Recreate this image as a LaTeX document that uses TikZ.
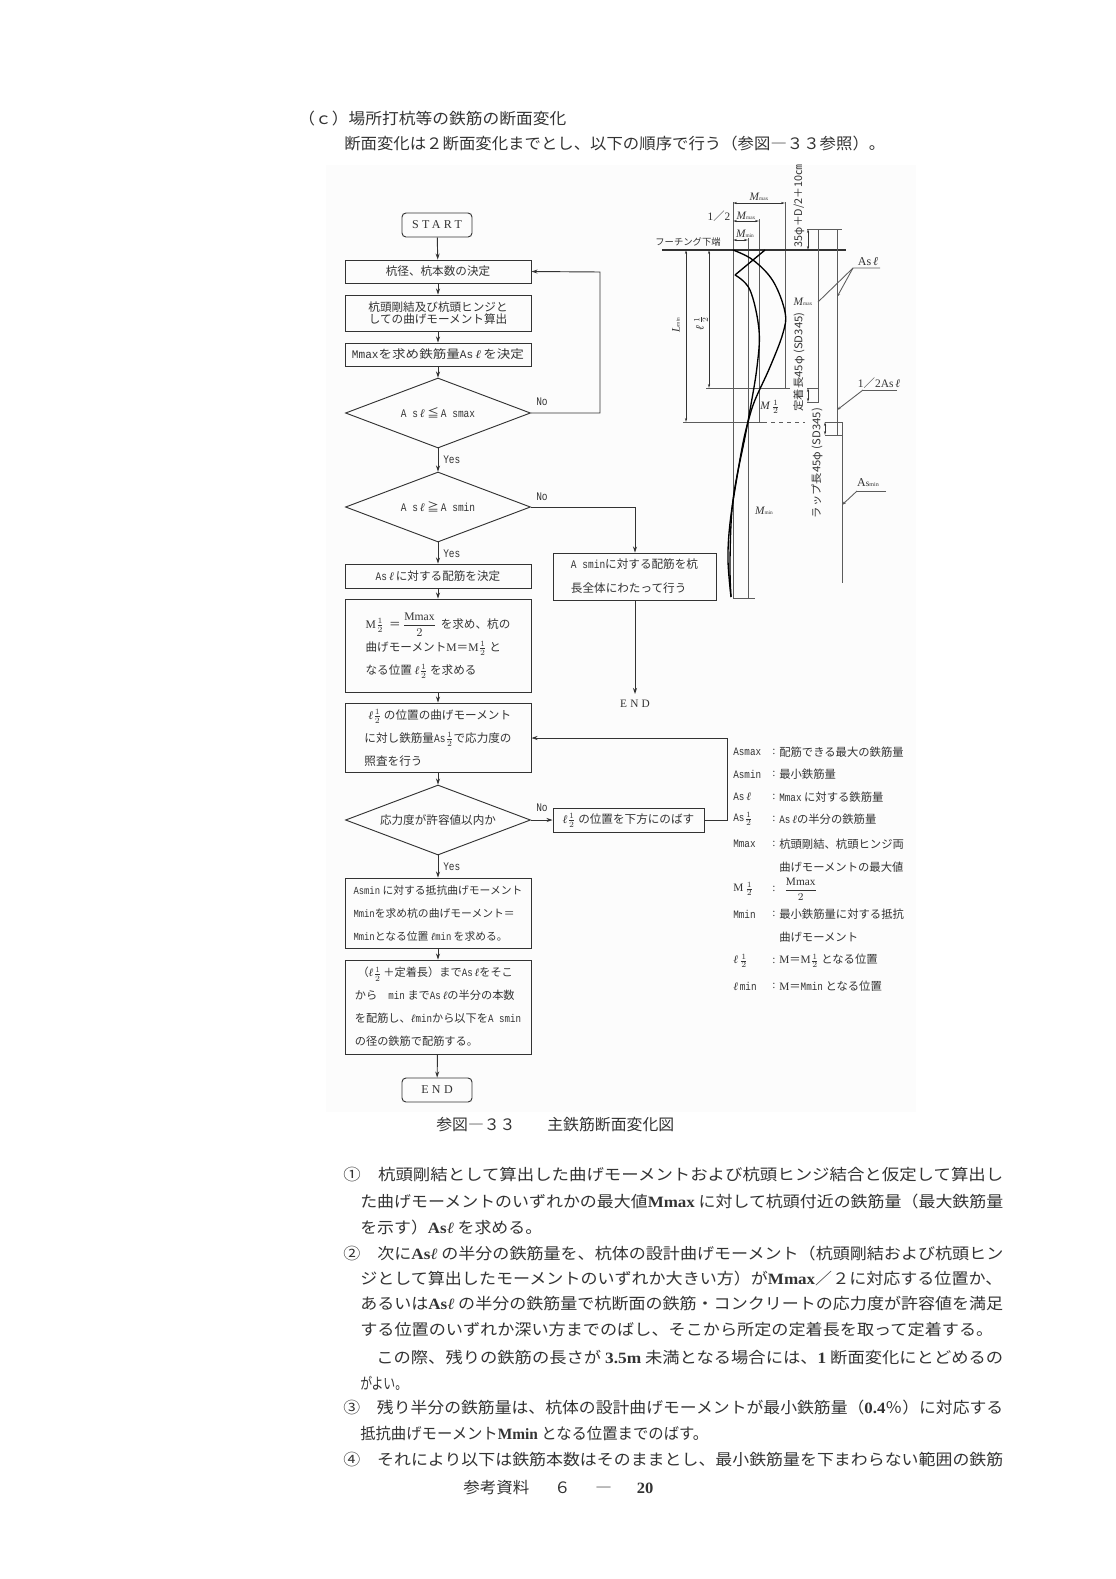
\documentclass[tikz,border=0pt]{standalone}
\usepackage{fontspec}
\usepackage{graphicx}
\usetikzlibrary{arrows.meta,shapes.geometric}
\setmainfont{Noto Sans CJK JP}
\newfontfamily\monof[FakeStretch=0.82]{Liberation Mono}
\newfontfamily\serf{Liberation Serif}
\newfontfamily\spacedf[LetterSpace=28]{Liberation Serif}
\newcommand\ma[1]{{\monof #1}}
\newcommand\se[1]{{\serf #1}}
\newcommand\bo[1]{{\serf\bfseries #1}}
\newcommand\el{{\serf\itshape ℓ}}
\newcommand\hf{$\frac{1}{2}$}
\newcommand\wsl{{\rmfamily ／}}
\newdimen\pxu \pxu=0.75pt
\definecolor{ink}{gray}{0.2}
\definecolor{scanbg}{gray}{0.99}
\newcounter{tn}
\newcommand\putlab[4][]{\stepcounter{tn}\node[lbl,#1] (t\arabic{tn}) at (#2,#3) {#4};}
\newcommand\bodyln[4]{\putlab[font=\fontsize{11.8}{14}\selectfont]{#1}{#2}{\resizebox{#3\pxu}{\height}{#4}}}
\newcommand\legend[3]{\putlab[font=\fontsize{8.5}{10}\selectfont]{733}{#1}{\ma{#2}}\putlab[font=\serf\fontsize{8.5}{10}\selectfont]{772}{#1}{:}\putlab[font=\fontsize{8.5}{10}\selectfont]{779}{#1}{#3}}
\tikzset{
  lbl/.style={anchor=west,inner sep=0pt,text=ink},
  fbox/.style={draw=ink,line width=0.7pt,rectangle,inner sep=0pt,text=ink,font=\fontsize{8.7}{17.25}\selectfont},
  tightbox/.style={fbox,font=\fontsize{8.7}{9.4}\selectfont,align=center},
  leftbox/.style={fbox,align=left},
  term/.style={fbox,rounded corners=3pt,minimum width=70\pxu,minimum height=24\pxu,font=\spacedf\fontsize{9}{11}\selectfont},
  dec/.style={draw=ink,line width=0.7pt,diamond,aspect=2.64,inner sep=0pt,minimum width=185\pxu,minimum height=70\pxu,text=ink,font=\fontsize{8.7}{10}\selectfont},
  arr/.style={draw=ink,line width=0.7pt,-{Stealth[length=4.5pt,width=3pt]}},
  rebar/.style={draw=ink!80,line width=0.65pt},
  thick curve/.style={draw=black,line width=1pt},
  dim/.style={draw=ink,line width=0.5pt,{Stealth[length=3pt,width=1.6pt]}-{Stealth[length=3pt,width=1.6pt]}},
  fl/.style={font=\monof\fontsize{8.7}{10}\selectfont},
  dl/.style={font=\serf\fontsize{8.5}{10}\selectfont},
  ds/.style={font=\fontsize{8}{10}\selectfont},
}
\begin{document}
\begin{tikzpicture}[x=0.75pt,y=-0.75pt]
\useasboundingbox (0,0) rectangle (1116,1579);
\fill[white] (0,0) rectangle (1116,1579);
\fill[scanbg] (326,165) rectangle (916,1112);

% headings
\bodyln{298}{119}{268}{（ｃ）場所打杭等の鉄筋の断面変化}
\bodyln{344}{144}{541}{断面変化は２断面変化までとし、以下の順序で行う（参図―３３参照）。}

% flowchart
\node[term] (start) at (437,225) {START};
\node[fbox,minimum width=186\pxu,minimum height=23\pxu] (b1) at (438,271.5) {杭径、杭本数の決定};
\node[tightbox,minimum width=186\pxu,minimum height=36\pxu] (b2) at (438,313) {杭頭剛結及び杭頭ヒンジと\\しての曲げモーメント算出};
\node[fbox,minimum width=186\pxu,minimum height=23\pxu] (b3) at (438,354.5) {\resizebox{172\pxu}{\height}{\ma{Mmax}を求め鉄筋量\ma{As}\,\el\,を決定}};
\node[dec] (d1) at (438,413) {\ma{A s}\,\el\ ≦\,\ma{A smax}};
\node[dec] (d2) at (438,507) {\ma{A s}\,\el\ ≧\,\ma{A smin}};
\node[fbox,minimum width=186\pxu,minimum height=24\pxu] (b4) at (438,576) {\ma{As}\,\el\,に対する配筋を決定};
\node[leftbox,minimum width=186\pxu,minimum height=93\pxu] (b5) at (438,645.5) {\se{M}\hf\ \ ＝\,$\displaystyle\frac{\mbox{\se{Mmax}}}{2}$\, を求め、杭の\\曲げモーメント\se{M}＝\se{M}\hf\ と\\なる位置 \el\hf\ を求める};
\node[leftbox,minimum width=186\pxu,minimum height=69\pxu] (b6) at (438,737.5) {\hspace{3pt}\el\hf\ の位置の曲げモーメント\\に対し鉄筋量\ma{As}\hf で応力度の\\照査を行う};
\node[dec] (d3) at (438,820) {応力度が許容値以内か};
\node[leftbox,minimum width=186\pxu,minimum height=70\pxu,font=\fontsize{8.1}{17.25}\selectfont] (b7) at (438,913) {\ma{Asmin} に対する抵抗曲げモーメント\\\ma{Mmin}を求め杭の曲げモーメント＝\\\ma{Mmin}となる位置 \el\ma{min} を求める。};
\node[leftbox,minimum width=186\pxu,minimum height=94\pxu,font=\fontsize{8.4}{17.25}\selectfont] (b8) at (438,1007) {\hspace{2pt}（\el\hf\,＋定着長）まで\ma{As}\,\el をそこ\\から\quad\ma{min} まで\ma{As}\,\el の半分の本数\\を配筋し、\el\ma{min}から以下を\ma{A smin}\\の径の鉄筋で配筋する。};
\node[term] (end1) at (437,1090) {END};
\node[leftbox,minimum width=163\pxu,minimum height=47\pxu,font=\fontsize{8.7}{18}\selectfont] (ba) at (634.5,576.5) {\ma{A smin}に対する配筋を杭\\長全体にわたって行う};
\node[fbox,minimum width=151\pxu,minimum height=24\pxu] (bl) at (628.5,820) {\el\hf\ の位置を下方にのばす};
\node[inner sep=0pt,text=ink,font=\spacedf\fontsize{8.5}{10}\selectfont] (end2) at (635,704) {END};

\coordinate (fb1) at (600,272);
\coordinate (ret) at (727,738);
\coordinate (dn1) at (635,507);
\coordinate (endtip) at (635,694);

\draw[arr] (start) -- (b1);
\draw[arr] (b1) -- (b2);
\draw[arr] (b2) -- (b3);
\draw[arr] (b3) -- (d1);
\draw[arr] (d1) -- (d2);
\draw[arr] (d2) -- (b4);
\draw[arr] (b4) -- (b5);
\draw[arr] (b5) -- (b6);
\draw[arr] (b6) -- (d3);
\draw[arr] (d3) -- (b7);
\draw[arr] (b7) -- (b8);
\draw[arr] (b8) -- (end1);
\draw[arr] (d1.east) -| (fb1) -- (b1.east);
\draw[arr] (d2.east) -- (dn1) -- (ba.north -| dn1);
\draw[arr] (ba.south -| endtip) -- (endtip);
\draw[arr] (d3.east) -- (bl.west);
\draw[arr] (bl.east) -| (ret) -- (b6.east |- ret);

\putlab[fl]{536}{402}{No}
\putlab[fl]{536}{497}{No}
\putlab[fl]{536}{808}{No}
\putlab[fl]{443}{460}{Yes}
\putlab[fl]{443}{554}{Yes}
\putlab[fl]{443}{867}{Yes}

% section diagram: pile lines
\draw[rebar] (733,202) -- (733,598) -- (755,598);
\draw[rebar] (785,202) -- (785,388);
\draw[rebar] (759,219) -- (759,422);
\draw[rebar] (748,238) -- (748,598);
\draw[line width=0.9pt,draw=ink] (662,250) -- (846,250);
\draw[rebar] (706,388) -- (790,388);
\draw[rebar] (683,422) -- (763,422);
\draw[rebar,dashed] (763,422) -- (805,422);
\draw[rebar] (807,229) -- (842,229);
\draw[rebar] (818,229) -- (818,402) -- (807,402);
\draw[rebar] (807,388) -- (818,388);
\draw[rebar] (837,229) -- (837,435);
\draw[rebar] (825,422) -- (842,422) -- (842,583);
\draw[rebar] (825,435) -- (842,435);

\draw[dim] (733,203) -- (785,203);
\draw[dim] (733,221) -- (759,221);
\draw[dim] (733,240) -- (748,240);
\draw[dim] (808,229) -- (808,250);
\draw[dim] (686,250) -- (686,422);
\draw[dim] (709,250) -- (709,388);
\draw[dim] (808,388) -- (808,402);
\draw[dim] (825,422) -- (825,435);

% moment curves
\draw[thick curve] plot[smooth,tension=0.6] coordinates {(733,250) (753,260) (773,281) (785,312) (783,333) (770,367) (755,400) (748,422) (743,443) (737,477) (730,523) (728,560) (731,597)};
\draw[thick curve] (765,250) -- (735,275) plot[smooth,tension=0.6] coordinates {(735,275) (750,290) (759,330) (757,367) (750,410) (745,437) (733,500) (730,560) (731,597)};

% leaders
\coordinate (asl) at (853,268);
\coordinate (hasl) at (863,390);
\coordinate (asm) at (857,491);
\draw[rebar] (880,268) -- (asl) -- (818,302);
\draw[rebar,-{Stealth[length=3pt,width=2pt]}] (asl) -- (837,297);
\draw[rebar] (897,390) -- (hasl);
\draw[rebar,-{Stealth[length=3pt,width=2pt]}] (hasl) -- (837,410);
\draw[rebar] (886,491) -- (asm);
\draw[rebar,-{Stealth[length=3pt,width=2pt]}] (asm) -- (842,505);

% section diagram labels
\newcommand\Mm[1]{\serf\itshape M{\fontsize{4}{5}\selectfont\upshape #1}}
\node[dl,inner sep=0pt,text=ink] (l1) at (759,197) {\Mm{max}};
\node[dl,inner sep=0pt,text=ink] (l2) at (719,216) {1\wsl 2};
\node[dl,inner sep=0pt,text=ink] (l3) at (746,216) {\Mm{max}};
\node[dl,inner sep=0pt,text=ink] (l4) at (745,234) {\Mm{min}};
\node[inner sep=0pt,text=ink,font=\fontsize{7}{9}\selectfont] (l5) at (688,242) {フーチング下端};
\node[dl,inner sep=0pt,text=ink,rotate=90] (l6) at (676,325) {{\itshape L}{\fontsize{4}{5}\selectfont min}};
\node[dl,inner sep=0pt,text=ink,rotate=90] (l7) at (701,323) {\el\,\hf};
\node[dl,inner sep=0pt,text=ink] (l8) at (803,302) {\Mm{max}};
\node[dl,inner sep=0pt,text=ink] (l9) at (770,407) {{\itshape M}\,\hf};
\node[ds,inner sep=0pt,text=ink,rotate=90] (l10) at (799,206) {\resizebox{82\pxu}{\height}{35φ＋D/2＋10㎝}};
\node[ds,inner sep=0pt,text=ink,rotate=90] (l11) at (799,362) {\resizebox{99\pxu}{\height}{定着長45φ\ (SD345)}};
\node[ds,inner sep=0pt,text=ink,rotate=90] (l12) at (817,463) {\resizebox{110\pxu}{\height}{ラップ長45φ\ (SD345)}};
\node[inner sep=0pt,text=ink,font=\serf\fontsize{9}{11}\selectfont] (l13) at (868,262) {As\,\el};
\node[inner sep=0pt,text=ink,font=\serf\fontsize{8.6}{11}\selectfont] (l14) at (879,383) {1\wsl 2As\,\el};
\node[inner sep=0pt,text=ink,font=\serf\fontsize{9}{11}\selectfont] (l15) at (868,483) {A{\fontsize{7}{8}\selectfont s}{\fontsize{4.5}{5}\selectfont min}};
\node[dl,inner sep=0pt,text=ink] (l16) at (764,511) {\Mm{min}};

% legend
\legend{752}{Asmax}{配筋できる最大の鉄筋量}
\legend{774}{Asmin}{最小鉄筋量}
\legend{797}{As\,\el}{\ma{Mmax} に対する鉄筋量}
\legend{819}{As\hf}{\ma{As}\,\el の半分の鉄筋量}
\legend{844}{Mmax}{杭頭剛結、杭頭ヒンジ両}
\putlab[font=\fontsize{8.5}{10}\selectfont]{779}{867}{曲げモーメントの最大値}
\legend{889}{\se{M}\,\hf}{\ \ $\displaystyle\frac{\mbox{\se{Mmax}}}{2}$}
\legend{914}{Mmin}{最小鉄筋量に対する抵抗}
\putlab[font=\fontsize{8.5}{10}\selectfont]{779}{937}{曲げモーメント}
\legend{961}{\el\,\hf}{\se{M}＝\se{M}\hf\ となる位置}
\legend{986}{\el\,min}{\se{M}＝\ma{Mmin} となる位置}

% caption
\bodyln{436}{1125}{238}{参図―３３\quad\quad 主鉄筋断面変化図}

% body text
\bodyln{343}{1175}{660}{①\hspace{1em}杭頭剛結として算出した曲げモーメントおよび杭頭ヒンジ結合と仮定して算出し}
\bodyln{360}{1202}{643}{た曲げモーメントのいずれかの最大値\bo{Mmax} に対して杭頭付近の鉄筋量（最大鉄筋量}
\bodyln{360}{1228}{182}{を示す）\bo{As}\el\ を求める。}
\bodyln{343}{1254}{660}{②\hspace{1em}次に\bo{As}\el\ の半分の鉄筋量を、杭体の設計曲げモーメント（杭頭剛結および杭頭ヒン}
\bodyln{360}{1279}{642}{ジとして算出したモーメントのいずれか大きい方）が\bo{Mmax}／２に対応する位置か、}
\bodyln{360}{1304}{643}{あるいは\bo{As}\el\ の半分の鉄筋量で杭断面の鉄筋・コンクリートの応力度が許容値を満足}
\bodyln{360}{1330}{633}{する位置のいずれか深い方までのばし、そこから所定の定着長を取って定着する。}
\bodyln{376}{1357}{627}{この際、残りの鉄筋の長さが \bo{3.5m} 未満となる場合には、\bo{1} 断面変化にとどめるの}
\bodyln{360}{1383}{47}{がよい。}
\bodyln{343}{1408}{660}{③\hspace{1em}残り半分の鉄筋量は、杭体の設計曲げモーメントが最小鉄筋量（\bo{0.4}％）に対応する}
\bodyln{360}{1434}{348}{抵抗曲げモーメント\bo{Mmin} となる位置までのばす。}
\bodyln{343}{1460}{660}{④\hspace{1em}それにより以下は鉄筋本数はそのままとし、最小鉄筋量を下まわらない範囲の鉄筋}
\bodyln{463}{1488}{190}{参考資料\hspace{1.5em}６\hspace{1.5em}―\hspace{1.5em}\bo{20}}
\end{tikzpicture}
\end{document}
